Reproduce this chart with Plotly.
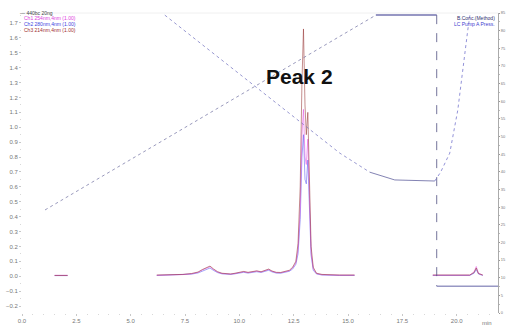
import plotly.graph_objects as go

# ---------------- data ----------------
t_early = [1.5, 2.1]
t_main = [6.2, 6.6, 7.0, 7.4, 7.8, 8.1, 8.3, 8.5, 8.65, 8.8, 9.0, 9.2, 9.4, 9.6, 9.8, 10.0,
          10.2, 10.4, 10.6, 10.8, 11.0, 11.2, 11.35, 11.5, 11.7, 11.9, 12.1, 12.3, 12.45,
          12.6, 12.7, 12.8, 12.88, 12.95, 13.02, 13.08, 13.15, 13.22, 13.3, 13.4, 13.55,
          13.8, 14.2, 14.6, 15.0, 15.3]
t_late = [18.9, 20.05, 20.6, 20.8, 20.9, 21.0, 21.2]

ch1_early = [0.006, 0.006]
ch1_main = [0.006, 0.007, 0.009, 0.011, 0.016, 0.026, 0.042, 0.056, 0.064, 0.046, 0.028, 0.018,
            0.014, 0.014, 0.018, 0.022, 0.03, 0.024, 0.028, 0.034, 0.028, 0.038, 0.045, 0.033,
            0.024, 0.023, 0.028, 0.037, 0.055, 0.09, 0.18, 0.45, 0.95, 1.12, 0.8, 0.75, 0.92,
            0.5, 0.16, 0.05, 0.018, 0.01, 0.007, 0.007, 0.007, 0.007]
ch1_late = [0.007, 0.007, 0.007, 0.03, 0.065, 0.02, 0.007]

ch2_early = [0.004, 0.004]
ch2_main = [0.005, 0.006, 0.008, 0.01, 0.014, 0.022, 0.036, 0.048, 0.055, 0.04, 0.024, 0.016,
            0.012, 0.012, 0.016, 0.02, 0.026, 0.021, 0.025, 0.03, 0.025, 0.033, 0.04, 0.029,
            0.021, 0.02, 0.025, 0.033, 0.048, 0.08, 0.15, 0.38, 0.8, 0.95, 0.65, 0.62, 0.78,
            0.42, 0.14, 0.04, 0.015, 0.008, 0.005, 0.005, 0.005, 0.005]
ch2_late = [0.005, 0.005, 0.005, 0.02, 0.045, 0.015, 0.005]

ch3_early = [0.005, 0.005]
ch3_main = [0.008, 0.008, 0.01, 0.012, 0.018, 0.028, 0.045, 0.06, 0.068, 0.05, 0.03, 0.02,
            0.016, 0.015, 0.02, 0.025, 0.032, 0.026, 0.03, 0.036, 0.03, 0.04, 0.048, 0.035,
            0.026, 0.025, 0.03, 0.04, 0.06, 0.1, 0.22, 0.6, 1.3, 1.66, 1.15, 0.95, 1.1, 0.6,
            0.2, 0.06, 0.02, 0.012, 0.008, 0.008, 0.008, 0.008]
ch3_late = [0.008, 0.008, 0.008, 0.025, 0.055, 0.018, 0.008]

# B.Conc (method) on right axis
bconc_t = [1.06, 16.28, 19.08, 19.08, 21.9]
bconc_v = [29.2, 84.4, 84.4, 7.6, 7.6]

# Pressure-like second method trace on right axis
pres_t = [6.57, 12.0, 14.62, 16.0, 17.15, 18.99, 19.26, 19.68, 20.05, 20.51, 20.64]
pres_v = [84.4, 58.1, 45.3, 39.9, 37.7, 37.4, 39.9, 45.3, 57.5, 80.2, 85.8]

x_ticks = [0.0, 2.5, 5.0, 7.5, 10.0, 12.5, 15.0, 17.5, 20.0]
x_labels = ["0.0", "2.5", "5.0", "7.5", "10.0", "12.5", "15.0", "17.5", "20.0"]
y_ticks = [round(-0.2 + 0.1 * i, 1) for i in range(20)]
y2_ticks = [5 * i for i in range(18)]

legend_left = ["\u2014 440bc 20ng", "Ch1 254nm,4nm (1.00)", "Ch2 280nm,4nm (1.00)",
               "Ch3 214nm,4nm (1.00)"]
legend_left_colors = ["#444444", "#e040e0", "#4040e0", "#a03030"]
legend_right = ["B.Conc.(Method)", "LC Pump A Press."]
legend_right_colors = ["#303070", "#4040d0"]

# ---------------- figure ----------------
L, R, T, B = 22, 8, 13, 16
W, H = 506, 329
PW, PH = W - L - R, H - T - B

fig = go.Figure()

def seg(a, b, c):
    return a + [None] + b + [None] + c

for vals, col in [((ch2_early, ch2_main, ch2_late), "rgba(90,90,240,0.55)"),
                  ((ch1_early, ch1_main, ch1_late), "rgba(225,80,225,0.55)"),
                  ((ch3_early, ch3_main, ch3_late), "rgba(150,50,50,0.55)")]:
    fig.add_trace(go.Scatter(x=seg(t_early, t_main, t_late), y=seg(*vals), mode="lines",
                             line=dict(color=col, width=1), connectgaps=False,
                             hoverinfo="skip", showlegend=False))

# B.Conc: rising part dotted, plateau solid, drop dashed, tail solid
fig.add_trace(go.Scatter(x=bconc_t[0:2], y=bconc_v[0:2], yaxis="y2", mode="lines",
                         line=dict(color="rgba(110,110,160,0.7)", width=1, dash="dot"),
                         showlegend=False))
fig.add_trace(go.Scatter(x=bconc_t[1:3], y=bconc_v[1:3], yaxis="y2", mode="lines",
                         line=dict(color="#7474b0", width=1.5), showlegend=False))
fig.add_trace(go.Scatter(x=bconc_t[2:4], y=bconc_v[2:4], yaxis="y2", mode="lines",
                         line=dict(color="rgba(80,80,130,0.8)", width=1, dash="dash"),
                         showlegend=False))
fig.add_trace(go.Scatter(x=bconc_t[3:5], y=bconc_v[3:5], yaxis="y2", mode="lines",
                         line=dict(color="#9898c4", width=1.5), showlegend=False))

# pressure
fig.add_trace(go.Scatter(x=pres_t[0:4], y=pres_v[0:4], yaxis="y2", mode="lines",
                         line=dict(color="rgba(110,110,190,0.7)", width=1, dash="dot"),
                         showlegend=False))
fig.add_trace(go.Scatter(x=pres_t[3:6], y=pres_v[3:6], yaxis="y2", mode="lines",
                         line=dict(color="rgba(100,100,160,0.8)", width=1),
                         showlegend=False))
fig.add_trace(go.Scatter(x=pres_t[5:], y=pres_v[5:], yaxis="y2", mode="lines",
                         line=dict(color="rgba(100,100,200,0.7)", width=1, dash="dot"),
                         showlegend=False))

def px(xp):
    return (xp - L) / PW

def py(yp):
    return 1 - (yp - T) / PH

annotations = []
left_x = [18, 22, 22, 22]
left_y = [13.3, 18.5, 24, 29.5]
for txt, col, xx, yy in zip(legend_left, legend_left_colors, left_x, left_y):
    annotations.append(dict(text=txt, x=px(xx), y=py(yy), xref="paper", yref="paper",
                            xanchor="left", yanchor="middle", showarrow=False,
                            font=dict(size=5, color=col, family="Liberation Sans")))
for i, (txt, col) in enumerate(zip(legend_right, legend_right_colors)):
    annotations.append(dict(text=txt, x=px(497), y=py(18 + 6 * i), xref="paper",
                            yref="paper", xanchor="right", yanchor="middle",
                            showarrow=False,
                            font=dict(size=5, color=col, family="Liberation Sans")))
annotations.append(dict(text="<b>Peak 2</b>", x=12.75, y=1.34, xref="x", yref="y",
                        showarrow=False,
                        font=dict(size=21, color="#111111", family="Liberation Sans")))
annotations.append(dict(text="min", x=px(494), y=py(323), xref="paper", yref="paper",
                        showarrow=False, yanchor="middle",
                        font=dict(size=6, color="#777777", family="Liberation Sans")))

tf = dict(size=6, color="#777777", family="Liberation Sans")
fig.update_layout(
    width=W, height=H,
    margin=dict(l=L, r=R, t=T, b=B, autoexpand=False),
    paper_bgcolor="white", plot_bgcolor="white",
    showlegend=False,
    annotations=annotations,
    shapes=[dict(type="line", xref="paper", yref="paper", x0=0, x1=1, y0=1, y1=1,
                 line=dict(color="#f0f0f0", width=1))],
    xaxis=dict(range=[0, 21.9], tickvals=x_ticks, ticktext=x_labels, showgrid=False,
               zeroline=False, showline=False, ticks="outside", ticklen=2,
               tickcolor="#c8c8c8", tickfont=tf, automargin=False,
               minor=dict(dtick=0.5, ticks="outside", ticklen=1, tickcolor="#d8d8d8")),
    yaxis=dict(range=[-0.247, 1.767], tickvals=y_ticks, showgrid=False, zeroline=False,
               showline=False, ticks="outside", ticklen=2, tickcolor="#c8c8c8",
               tickformat=".1f", tickfont=tf, automargin=False,
               minor=dict(dtick=0.05, ticks="outside", ticklen=1, tickcolor="#d8d8d8")),
    yaxis2=dict(range=[0, 85], overlaying="y", side="right", tickvals=y2_ticks,
                showgrid=False, zeroline=False, showline=True, linecolor="#aaaaaa",
                linewidth=1, ticks="outside", ticklen=1, tickcolor="#999999",
                tickfont=dict(size=4, color="#777777", family="Liberation Sans"),
                automargin=False,
                minor=dict(dtick=2.5, ticks="outside", ticklen=1, tickcolor="#bbbbbb")),
)

fig.write_html("out.html")
